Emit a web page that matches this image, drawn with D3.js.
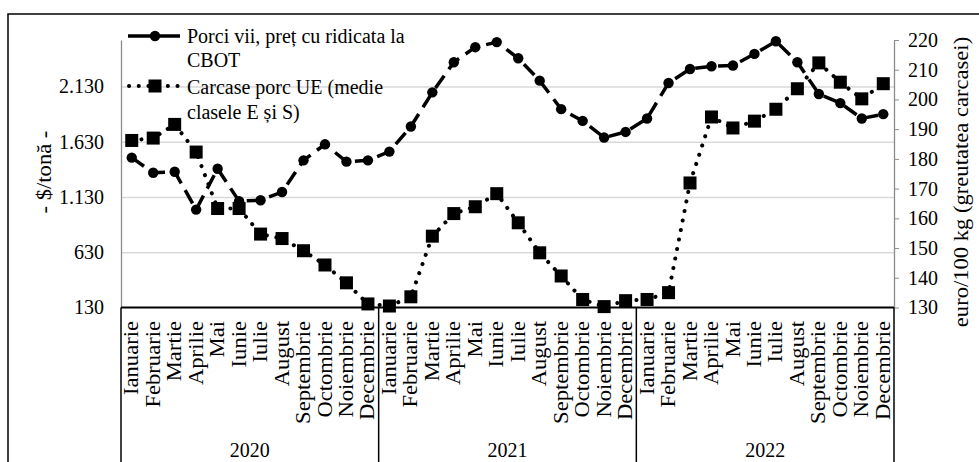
<!DOCTYPE html>
<html>
<head>
<meta charset="utf-8">
<script src="https://cdnjs.cloudflare.com/ajax/libs/d3/7.8.5/d3.min.js"></script>
<style>
  body { margin: 0; background: #fff; }
  svg text { font-family: "Liberation Serif", "Times New Roman", serif; fill: #000; }
</style>
</head>
<body>
<div class="container"></div>
<script>
const months = ["Ianuarie", "Februarie", "Martie", "Aprilie", "Mai", "Iunie",
  "Iulie", "August", "Septembrie", "Octombrie", "Noiembrie", "Decembrie"];
const years = ["2020", "2021", "2022"];

// $/tona, axa stanga
const porciVii = [
  1486, 1350, 1359, 1016, 1386, 1092, 1101, 1175, 1462, 1607, 1450, 1462,
  1541, 1768, 2077, 2350, 2486, 2532, 2386, 2183, 1925, 1819, 1668, 1719,
  1841, 2162, 2289, 2313, 2320, 2425, 2540, 2350, 2062, 1980, 1841, 1880
];
// euro/100 kg, axa dreapta
const carcase = [
  186.2, 187.0, 191.6, 182.3, 163.3, 163.3, 154.7, 153.2, 149.1, 144.3, 138.3, 131.2,
  130.5, 133.6, 154.0, 161.6, 163.9, 168.3, 158.5, 148.4, 140.6, 132.7, 130.3, 132.3,
  132.7, 135.0, 171.9, 194.1, 190.4, 192.7, 196.7, 203.6, 212.3, 205.8, 200.2, 205.3
];

const leftTicks = [130, 630, 1130, 1630, 2130];
const rightTicks = [130, 140, 150, 160, 170, 180, 190, 200, 210, 220];
const legendLabels = [
  ["Porci vii, preț cu ridicata la", "CBOT"],
  ["Carcase porc UE (medie", "clasele E și S)"]
];
const leftTitle = "- $/tonă -";
const rightTitle = "euro/100 kg (greutatea carcasei)";

const w = 979;
const h = 462;
const plotLeft = 121;
const plotRight = 894;
const plotTop = 40;
const plotBottom = 307.5;
const fs = 20;
const stretch = 1.13;

const ro = d3.formatLocale({decimal: ",", thousands: ".", grouping: [3], currency: ["", ""]});
const fmt = ro.format(",");

const idx = d3.range(months.length * years.length);
const xScale = d3.scaleBand().domain(idx).range([plotLeft, plotRight]);
const bw = xScale.bandwidth();
const cx = (i) => xScale(i) + bw / 2;

const yLeft = d3.scaleLinear().domain([130, 2551]).range([plotBottom, plotTop]);
const yRight = d3.scaleLinear().domain([130, 220]).range([plotBottom, plotTop]);

const svg = d3.select(".container")
  .append("svg")
  .attr("width", w)
  .attr("height", h);

// chenar exterior
svg.append("path")
  .attr("d", "M" + w + ",14H8V" + h)
  .attr("fill", "none")
  .attr("stroke", "#000")
  .attr("stroke-width", 1.5);

// grid
svg.append("g")
  .attr("transform", "translate(" + plotLeft + ",0)")
  .call(d3.axisLeft(yLeft).tickValues(leftTicks.slice(1)).tickSize(-(plotRight - plotLeft)).tickFormat(""))
  .call(g => g.select(".domain").remove())
  .call(g => g.selectAll(".tick line").attr("stroke", "#d9d9d9").attr("stroke-width", 1.5));

// axa stanga
svg.append("g")
  .attr("transform", "translate(" + plotLeft + ",0)")
  .call(d3.axisLeft(yLeft).tickValues(leftTicks).tickSize(0).tickSizeOuter(0).tickPadding(17).tickFormat(fmt))
  .call(g => g.select(".domain").attr("stroke", "#8c8c8c").attr("stroke-width", 1.3))
  .call(g => g.selectAll("text").attr("font-size", fs).style("font-family", "Liberation Serif"));

// axa dreapta
svg.append("g")
  .attr("transform", "translate(" + plotRight + ",0)")
  .call(d3.axisRight(yRight).tickValues(rightTicks).tickSize(5).tickSizeOuter(0).tickPadding(9))
  .call(g => g.select(".domain").attr("stroke", "#8c8c8c").attr("stroke-width", 1.3))
  .call(g => g.selectAll(".tick line").attr("stroke", "#8c8c8c"))
  .call(g => g.selectAll("text").attr("font-size", fs).style("font-family", "Liberation Serif"));

// caseta axei x
svg.append("line")
  .attr("x1", plotLeft).attr("x2", plotRight)
  .attr("y1", plotBottom).attr("y2", plotBottom)
  .attr("stroke", "#000").attr("stroke-width", 2);

const seps = [0, 12, 24].map(i => xScale(i)).concat([plotRight]);
svg.selectAll(".sep")
  .data(seps)
  .enter()
  .append("line")
  .attr("class", "sep")
  .attr("x1", d => d).attr("x2", d => d)
  .attr("y1", plotBottom).attr("y2", h)
  .attr("stroke", "#000").attr("stroke-width", 1.5);

svg.selectAll(".month")
  .data(idx)
  .enter()
  .append("text")
  .attr("class", "month")
  .attr("transform", d => "translate(" + cx(d) + ",321) rotate(-90) scale(" + stretch + ",1)")
  .attr("text-anchor", "end")
  .attr("dominant-baseline", "central")
  .attr("font-size", fs)
  .text(d => months[d % 12]);

svg.selectAll(".year")
  .data(years)
  .enter()
  .append("text")
  .attr("class", "year")
  .attr("x", (d, i) => (xScale(i * 12) + (i < 2 ? xScale(i * 12 + 12) : plotRight)) / 2)
  .attr("y", 457)
  .attr("text-anchor", "middle")
  .attr("font-size", fs)
  .text(d => d);

// titluri axe
svg.append("text")
  .attr("transform", "translate(44,172) rotate(-90) scale(" + stretch + ",1)")
  .attr("text-anchor", "middle")
  .attr("dominant-baseline", "central")
  .attr("font-size", fs)
  .text(leftTitle);

svg.append("text")
  .attr("transform", "translate(961,182) rotate(-90) scale(" + stretch + ",1)")
  .attr("text-anchor", "middle")
  .attr("dominant-baseline", "central")
  .attr("font-size", fs)
  .text(rightTitle);

// serii
const line1 = d3.line().x(cx).y(i => yLeft(porciVii[i]));
const line2 = d3.line().x(cx).y(i => yRight(carcase[i]));

svg.append("path")
  .attr("d", line1(idx))
  .attr("fill", "none")
  .attr("stroke", "#000")
  .attr("stroke-width", 3.5)
  .attr("stroke-dasharray", "15,8");

svg.selectAll(".pt1")
  .data(idx)
  .enter()
  .append("circle")
  .attr("class", "pt1")
  .attr("cx", cx)
  .attr("cy", i => yLeft(porciVii[i]))
  .attr("r", 5.2)
  .attr("fill", "#000");

svg.append("path")
  .attr("d", line2(idx))
  .attr("fill", "none")
  .attr("stroke", "#000")
  .attr("stroke-width", 4)
  .attr("stroke-linecap", "round")
  .attr("stroke-dasharray", "0.1,9.6");

svg.selectAll(".pt2")
  .data(idx)
  .enter()
  .append("rect")
  .attr("class", "pt2")
  .attr("x", i => cx(i) - 6.5)
  .attr("y", i => yRight(carcase[i]) - 6.5)
  .attr("width", 13)
  .attr("height", 13)
  .attr("fill", "#000");

// legenda
const lg = svg.append("g");
lg.append("line")
  .attr("x1", 128).attr("x2", 180).attr("y1", 36).attr("y2", 36)
  .attr("stroke", "#000").attr("stroke-width", 3.5);
lg.append("circle").attr("cx", 155).attr("cy", 36).attr("r", 5.2).attr("fill", "#000");
lg.append("line")
  .attr("x1", 129).attr("x2", 181).attr("y1", 86).attr("y2", 86)
  .attr("stroke", "#000").attr("stroke-width", 4)
  .attr("stroke-linecap", "round").attr("stroke-dasharray", "0.1,9.6");
lg.append("rect").attr("x", 148.5).attr("y", 79.5).attr("width", 13).attr("height", 13).attr("fill", "#000");

const legendY = [[36, 60], [87, 112]];
legendLabels.forEach((lines, k) => {
  lines.forEach((t, j) => {
    lg.append("text")
      .attr("x", 187)
      .attr("y", legendY[k][j])
      .attr("dominant-baseline", "central")
      .attr("font-size", fs)
      .text(t);
  });
});
</script>
</body>
</html>
